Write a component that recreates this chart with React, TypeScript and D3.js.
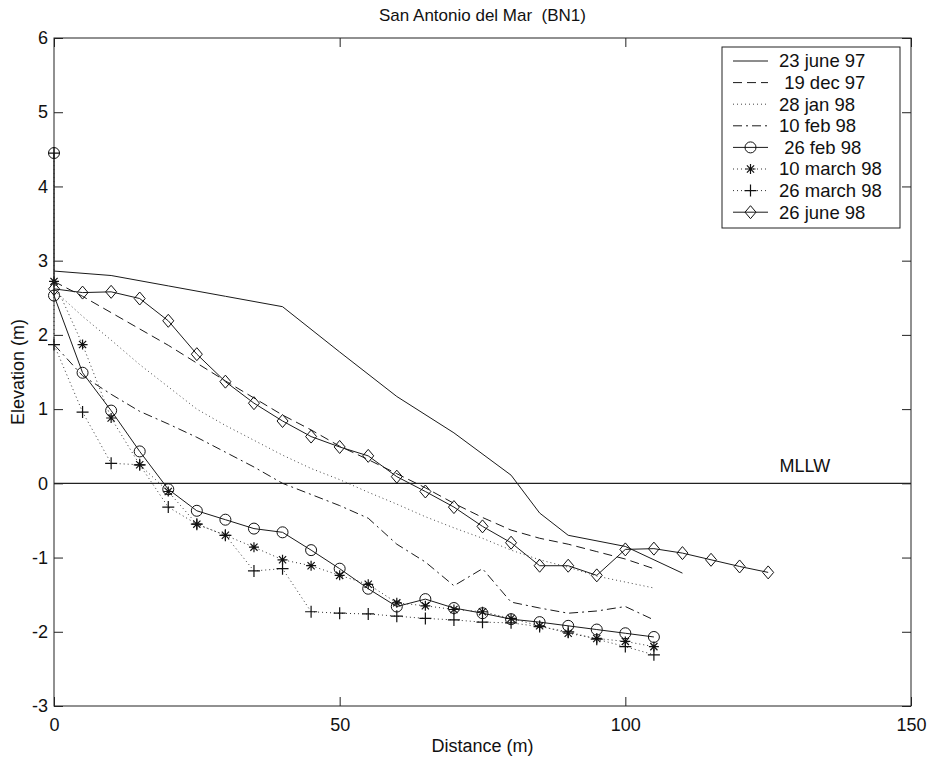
import React, { useEffect, useRef } from "react";
import * as d3 from "d3";

// distances (m)
const dist5 = [0, 5, 10, 15, 20, 25, 30, 35, 40, 45, 50, 55, 60, 65, 70, 75, 80, 85, 90, 95, 100, 105];
const dist5Extra = [0, 0, 5, 10, 15, 20, 25, 30, 35, 40, 45, 50, 55, 60, 65, 70, 75, 80, 85, 90, 95, 100, 105];
const distJune98 = [0, 5, 10, 15, 20, 25, 30, 35, 40, 45, 50, 55, 60, 65, 70, 75, 80, 85, 90, 95, 100, 105, 110, 115, 120, 125];
const distJune97 = [0, 10, 20, 30, 40, 50, 60, 70, 80, 85, 90, 100, 110];

// elevations (m)
const june97 = [2.86, 2.8, 2.66, 2.52, 2.38, 1.77, 1.17, 0.68, 0.11, -0.4, -0.7, -0.85, -1.21];
const dec97 = [2.72, 2.52, 2.3, 2.08, 1.86, 1.62, 1.38, 1.15, 0.92, 0.72, 0.5, 0.32, 0.13, -0.06, -0.27, -0.46, -0.63, -0.74, -0.82, -0.92, -1.02, -1.15];
const jan98 = [2.6, 2.25, 1.93, 1.6, 1.3, 1.0, 0.78, 0.58, 0.38, 0.2, 0.05, -0.12, -0.28, -0.45, -0.6, -0.74, -0.9, -1.03, -1.13, -1.25, -1.33, -1.41];
const feb10 = [1.87, 1.45, 1.2, 0.97, 0.8, 0.62, 0.42, 0.22, 0.0, -0.15, -0.3, -0.47, -0.82, -1.06, -1.38, -1.15, -1.6, -1.68, -1.75, -1.72, -1.66, -1.84];
const feb26 = [4.45, 2.53, 1.49, 0.98, 0.43, -0.08, -0.37, -0.49, -0.61, -0.66, -0.9, -1.15, -1.42, -1.66, -1.56, -1.68, -1.75, -1.83, -1.87, -1.92, -1.97, -2.02, -2.07];
const mar10 = [2.72, 1.87, 0.88, 0.25, -0.11, -0.55, -0.7, -0.86, -1.03, -1.11, -1.24, -1.36, -1.61, -1.65, -1.7, -1.73, -1.82, -1.92, -2.02, -2.09, -2.13, -2.2];
const mar26 = [4.45, 1.87, 0.96, 0.27, 0.25, -0.32, -0.55, -0.7, -1.18, -1.15, -1.73, -1.75, -1.76, -1.79, -1.82, -1.84, -1.87, -1.88, -1.93, -2.0, -2.1, -2.2, -2.31];
const june98 = [2.62, 2.57, 2.58, 2.49, 2.19, 1.74, 1.37, 1.08, 0.84, 0.63, 0.49, 0.37, 0.09, -0.11, -0.32, -0.58, -0.8, -1.11, -1.11, -1.24, -0.89, -0.88, -0.94, -1.03, -1.12, -1.2];

const labels = ["23 june 97", " 19 dec 97", "28 jan 98", "10 feb 98", " 26 feb 98", "10 march 98", "26 march 98", "26 june 98"];
const xTicks = [0, 50, 100, 150];
const yTicks = [-3, -2, -1, 0, 1, 2, 3, 4, 5, 6];

type Series = { x: number[]; y: number[]; dash: string; marker: string; color: string };

const series: Series[] = [
    { x: distJune97, y: june97, dash: "none", marker: "none", color: "#1a1a1a" },
    { x: dist5, y: dec97, dash: "9,5", marker: "none", color: "#1a1a1a" },
    { x: dist5, y: jan98, dash: "1,3", marker: "none", color: "#444" },
    { x: dist5, y: feb10, dash: "9,4,2,4", marker: "none", color: "#1a1a1a" },
    { x: dist5Extra, y: feb26, dash: "none", marker: "circle", color: "#1a1a1a" },
    { x: dist5, y: mar10, dash: "1,3", marker: "star", color: "#333" },
    { x: dist5Extra, y: mar26, dash: "1,3", marker: "plus", color: "#333" },
    { x: distJune98, y: june98, dash: "none", marker: "diamond", color: "#1a1a1a" },
];

function drawMarker(g: any, kind: string, cx: number, cy: number) {
    const s = "#111";
    if (kind === "circle") {
        g.append("circle").attr("cx", cx).attr("cy", cy).attr("r", 5.5)
            .attr("fill", "none").attr("stroke", s).attr("stroke-width", 1);
    } else if (kind === "plus") {
        g.append("path").attr("d", `M${cx - 6},${cy}H${cx + 6}M${cx},${cy - 6}V${cy + 6}`)
            .attr("stroke", s).attr("stroke-width", 1.2).attr("fill", "none");
    } else if (kind === "star") {
        const r = 5, q = 3.6;
        g.append("path")
            .attr("d", `M${cx - r},${cy}H${cx + r}M${cx},${cy - r}V${cy + r}M${cx - q},${cy - q}L${cx + q},${cy + q}M${cx - q},${cy + q}L${cx + q},${cy - q}`)
            .attr("stroke", s).attr("stroke-width", 1.2).attr("fill", "none");
    } else if (kind === "diamond") {
        g.append("path").attr("d", `M${cx},${cy - 6.5}L${cx + 5.5},${cy}L${cx},${cy + 6.5}L${cx - 5.5},${cy}Z`)
            .attr("fill", "none").attr("stroke", s).attr("stroke-width", 1);
    }
}

const App = () => {
    const ref = useRef<SVGSVGElement>(null);

    useEffect(() => {
        const svg = d3.select(ref.current);
        svg.selectAll("*").remove();

        const width = 930;
        const height = 759;
        const left = 54, right = 911, top = 38, bottom = 706;
        const font = "Arial, 'Liberation Sans', Helvetica, sans-serif";

        const x = d3.scaleLinear().domain([0, 150]).range([left, right]);
        const y = d3.scaleLinear().domain([-3, 6]).range([bottom, top]);

        svg.attr("width", width).attr("height", height);
        svg.append("rect").attr("width", width).attr("height", height).attr("fill", "white");

        // plot frame
        svg.append("rect").attr("x", left).attr("y", top).attr("width", right - left).attr("height", bottom - top)
            .attr("fill", "none").attr("stroke", "#222").attr("stroke-width", 1);

        // axes (ticks inside), plain hyphen minus like the original
        const fmt = (d: any) => String(d);
        const ax = svg.append("g").attr("transform", `translate(0,${bottom})`)
            .call(d3.axisBottom(x).tickValues(xTicks).tickSizeInner(-9).tickSizeOuter(0).tickPadding(12).tickFormat(fmt));
        const axTop = svg.append("g").attr("transform", `translate(0,${top})`)
            .call(d3.axisTop(x).tickValues(xTicks).tickSizeInner(-9).tickSizeOuter(0).tickFormat(() => ""));
        const ay = svg.append("g").attr("transform", `translate(${left},0)`)
            .call(d3.axisLeft(y).tickValues(yTicks).tickSizeInner(-9).tickSizeOuter(0).tickPadding(6).tickFormat(fmt));
        const ayR = svg.append("g").attr("transform", `translate(${right},0)`)
            .call(d3.axisRight(y).tickValues(yTicks).tickSizeInner(-9).tickSizeOuter(0).tickFormat(() => ""));
        [ax, axTop, ay, ayR].forEach((a) => {
            a.select(".domain").remove();
            a.selectAll("line").attr("stroke", "#222");
            a.selectAll("text").attr("font-family", font).attr("font-size", 18).attr("fill", "#111");
        });
        ax.selectAll("text").attr("dy", "0.71em");

        // MLLW line
        svg.append("line").attr("x1", left).attr("x2", right).attr("y1", y(0)).attr("y2", y(0))
            .attr("stroke", "#222").attr("stroke-width", 1.2);
        svg.append("text").attr("x", x(127)).attr("y", y(0) - 11).text("MLLW")
            .attr("font-family", font).attr("font-size", 18).attr("fill", "#111");

        // series
        const line = d3.line<[number, number]>().x((d) => x(d[0])).y((d) => y(d[1]));
        series.forEach((s) => {
            const pts: [number, number][] = s.x.map((d, i) => [d, s.y[i]]);
            svg.append("path").attr("d", line(pts)).attr("fill", "none")
                .attr("stroke", s.color).attr("stroke-width", 1)
                .attr("stroke-dasharray", s.dash);
            if (s.marker !== "none") {
                const g = svg.append("g");
                pts.forEach((p) => drawMarker(g, s.marker, x(p[0]), y(p[1])));
            }
        });

        // legend
        const lg = svg.append("g");
        lg.append("rect").attr("x", 722).attr("y", 47).attr("width", 178).attr("height", 181)
            .attr("fill", "white").attr("stroke", "#222").attr("stroke-width", 1);
        labels.forEach((lab, i) => {
            const ly = 61 + i * 21.6;
            const s = series[i];
            lg.append("line").attr("x1", 733).attr("x2", 768).attr("y1", ly).attr("y2", ly)
                .attr("stroke", s.color).attr("stroke-width", 1).attr("stroke-dasharray", s.dash);
            if (s.marker !== "none") drawMarker(lg, s.marker, 750.5, ly);
            lg.append("text").attr("x", 779).attr("y", ly).attr("dy", "0.35em").text(lab)
                .attr("font-family", font).attr("font-size", 18.5).attr("fill", "#111")
                .style("white-space", "pre");
        });

        // title and axis labels
        svg.append("text").attr("x", (left + right) / 2).attr("y", 21).attr("text-anchor", "middle")
            .text("San Antonio del Mar  (BN1)").style("white-space", "pre")
            .attr("font-family", font).attr("font-size", 17).attr("fill", "#111");
        svg.append("text").attr("x", (left + right) / 2).attr("y", 752).attr("text-anchor", "middle")
            .text("Distance (m)").attr("font-family", font).attr("font-size", 18).attr("fill", "#111");
        svg.append("text").attr("transform", `translate(24,${(top + bottom) / 2}) rotate(-90)`)
            .attr("text-anchor", "middle").text("Elevation (m)")
            .attr("font-family", font).attr("font-size", 18).attr("fill", "#111");
    }, []);

    return (
        <svg ref={ref} style={{ position: "absolute", left: 0, top: 0, display: "block" }}></svg>
    );
};

export default App;
